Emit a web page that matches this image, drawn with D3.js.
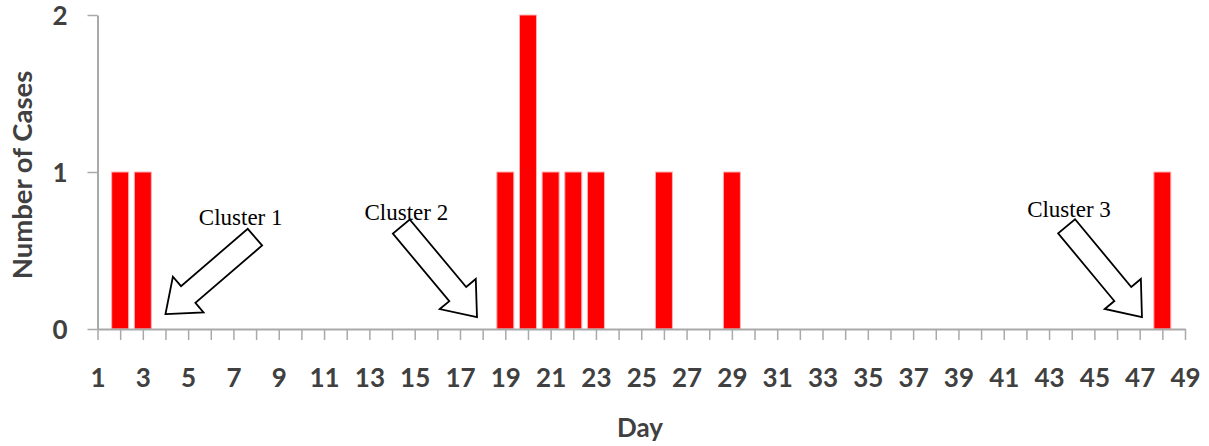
<!DOCTYPE html>
<html>
<head>
<meta charset="utf-8">
<script src="https://cdn.jsdelivr.net/npm/d3@7/dist/d3.min.js"></script>
<style>
  html, body { margin: 0; padding: 0; background: #ffffff; }
  svg { display: block; }
</style>
</head>
<body>
<svg id="chart" width="1209" height="446"></svg>
<script>
// Daily case counts (days without cases are zero)
const days = d3.range(1, 50);
const caseDays = [2, 3, 19, 20, 21, 22, 23, 26, 29, 48];
const caseCounts = [1, 1, 1, 2, 1, 1, 1, 1, 1, 1];
const yTicks = [0, 1, 2];
const xLabelDays = days.filter(d => d % 2 === 1);

// Cluster annotations: label, where the arrow points (day, value), label anchor
const clusterLabels = ["Cluster 1", "Cluster 2", "Cluster 3"];
const clusterTipDay = [4, 17.75, 47.1];
const clusterTipValue = [0.095, 0.076, 0.076];
const clusterAngle = [139.3, 50.1, 50.3];
const clusterLabelDay = [7.32, 14.63, 43.88];
const clusterLabelValue = [0.662, 0.694, 0.713];

const counts = new Map(caseDays.map((d, i) => [d, caseCounts[i]]));
const series = days.map(d => ({ day: d, value: counts.get(d) || 0 }));

const svg = d3.select("#chart");
const x = d3.scaleLinear().domain([1, 49]).range([97.5, 1185]);
const y = d3.scaleLinear().domain([0, 2]).range([329, 15]);

const axisColor = "#a9a9a9";
const textColor = "#404040";
const axisFont = "Lato, 'Open Sans', sans-serif";

// Bars
const barW = 17;
svg.append("g")
  .selectAll("rect")
  .data(series.filter(d => d.value > 0))
  .join("rect")
  .attr("x", d => x(d.day) - barW / 2)
  .attr("y", d => y(d.value))
  .attr("width", barW)
  .attr("height", d => y(0) - y(d.value))
  .attr("fill", "#ff0000")
  .attr("stroke", "#ffb3b3")
  .attr("stroke-width", 1);

// X axis: a tick for every day, a label on odd days
const gx = svg.append("g")
  .attr("transform", `translate(0,${y(0)})`)
  .call(d3.axisBottom(x)
    .tickValues(days)
    .tickSize(11)
    .tickSizeOuter(0)
    .tickFormat(d => (xLabelDays.includes(d) ? d : "")));
gx.select(".domain").attr("stroke", axisColor).attr("stroke-width", 2);
gx.selectAll(".tick line").attr("stroke", axisColor).attr("stroke-width", 1.5);
gx.selectAll(".tick text")
  .attr("y", 58).attr("dy", 0)
  .attr("fill", textColor)
  .attr("font-family", axisFont)
  .attr("font-weight", "bold")
  .attr("font-size", 26);

// Y axis
const gy = svg.append("g")
  .attr("transform", `translate(${x(1)},0)`)
  .call(d3.axisLeft(y)
    .tickValues(yTicks)
    .tickSize(10)
    .tickSizeOuter(0)
    .tickFormat(d3.format("d")));
gy.select(".domain").attr("stroke", axisColor).attr("stroke-width", 2);
gy.selectAll(".tick line").attr("stroke", axisColor).attr("stroke-width", 1.5);
gy.selectAll(".tick text")
  .attr("x", -30).attr("dy", "0.36em")
  .attr("fill", textColor)
  .attr("font-family", axisFont)
  .attr("font-weight", "bold")
  .attr("font-size", 26);

// Axis titles
svg.append("text")
  .attr("x", 640).attr("y", 437)
  .attr("text-anchor", "middle")
  .attr("fill", textColor)
  .attr("font-family", axisFont)
  .attr("font-weight", "bold")
  .attr("font-size", 26)
  .text("Day");

svg.append("text")
  .attr("transform", "translate(32,175) rotate(-90)")
  .attr("text-anchor", "middle")
  .attr("fill", textColor)
  .attr("font-family", axisFont)
  .attr("font-weight", "bold")
  .attr("font-size", 27.5)
  .text("Number of Cases");

// Block arrows: tip at origin, pointing along +x, then rotated into place
const arrowLen = 118, shaftW = 22, headW = 47, headLen = 30;
const arrowShape = [
  [0, 0],
  [-headLen, -headW / 2],
  [-headLen, -shaftW / 2],
  [-arrowLen, -shaftW / 2],
  [-arrowLen, shaftW / 2],
  [-headLen, shaftW / 2],
  [-headLen, headW / 2]
];
const line = d3.line().curve(d3.curveLinearClosed);

const annotations = clusterLabels.map((label, i) => ({
  label,
  tipX: x(clusterTipDay[i]),
  tipY: y(clusterTipValue[i]),
  angle: clusterAngle[i],
  labelX: x(clusterLabelDay[i]),
  labelY: y(clusterLabelValue[i])
}));

const ann = svg.append("g");
ann.selectAll("text")
  .data(annotations)
  .join("text")
  .attr("x", d => d.labelX)
  .attr("y", d => d.labelY)
  .attr("text-anchor", "middle")
  .attr("font-family", "'Liberation Serif', 'Times New Roman', serif")
  .attr("font-size", 23)
  .attr("fill", "#000000")
  .text(d => d.label);

ann.selectAll("path")
  .data(annotations)
  .join("path")
  .attr("transform", d => `translate(${d.tipX},${d.tipY}) rotate(${d.angle})`)
  .attr("d", line(arrowShape))
  .attr("fill", "#ffffff")
  .attr("stroke", "#000000")
  .attr("stroke-width", 1.8)
  .attr("stroke-linejoin", "miter");
</script>
</body>
</html>
